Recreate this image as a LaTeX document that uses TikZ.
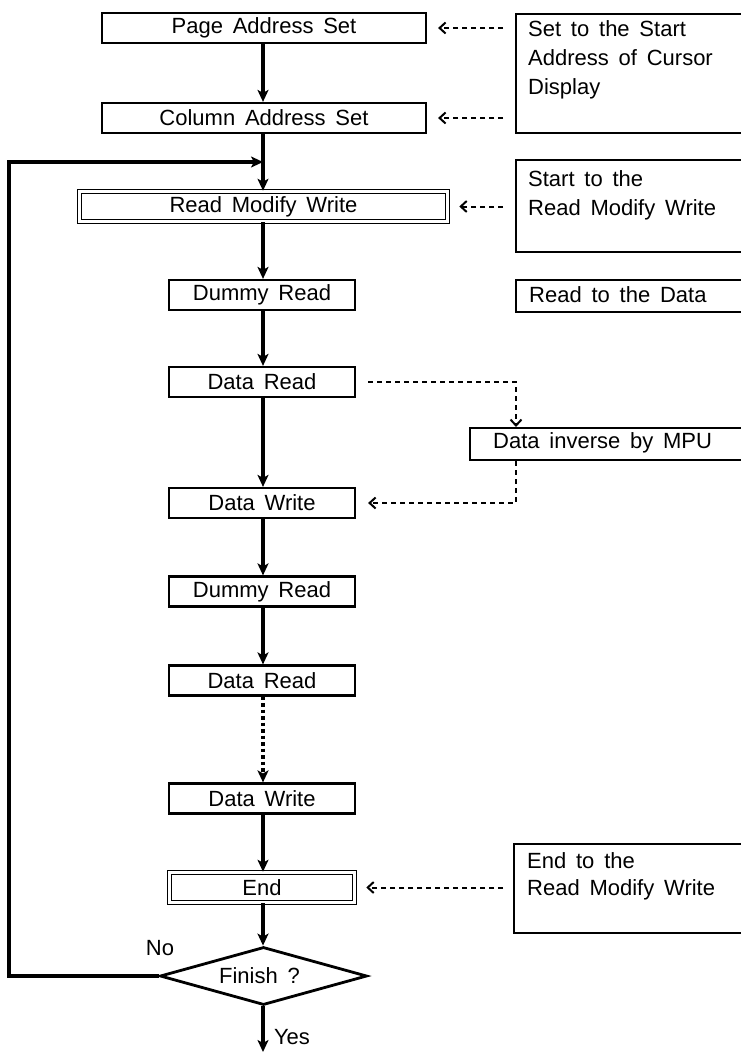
\documentclass[tikz,border=0pt]{standalone}
\usepackage{fontspec}
\setmainfont{Liberation Sans}[WordSpace=1.6]
\usetikzlibrary{arrows.meta,shapes.geometric,calc}
\tikzset{
  fnt/.style={font=\fontsize{22}{29}\selectfont},
  box/.style={draw, line width=2.2pt, inner sep=0pt, minimum height=30pt, fnt},
  bigbox/.style={box, minimum width=324pt},
  smallbox/.style={box, minimum width=186pt, minimum height=30pt},
  dbox/.style={draw, double, line width=1.5pt, double distance=2.4pt, inner sep=0pt, minimum height=30pt, fnt},
  note/.style={draw, line width=2.2pt, anchor=north west, inner sep=0pt},
  notetext/.style={anchor=north west, align=left, inner sep=0pt, fnt},
  flow/.style={line width=3.2pt, -{Stealth[length=12pt,width=11pt,inset=3pt]}},
  dotflow/.style={flow, dash pattern=on 3.5pt off 3pt},
  dasharrow/.style={line width=2pt, dash pattern=on 5pt off 4pt, -{Straight Barb[length=6pt,width=11pt,line width=2pt]}},
  plain/.style={inner sep=0pt, fnt}
}
\begin{document}
\begin{tikzpicture}[x=1pt,y=-1pt]
\path[use as bounding box, fill=white] (0,0) rectangle (741,1052);

% main flow
\node[bigbox] (pas) at (264,28) {Page Address Set};
\node[bigbox] (cas) at (264,118) {Column Address Set};
\node[dbox, minimum width=368pt] (rmw) at (263.5,206.5) {Read Modify Write};
\node[smallbox] (dr1) at (262,295) {Dummy Read};
\node[smallbox] (dtr1) at (262,382) {Data Read};
\node[smallbox] (dw1) at (262,503) {Data Write};
\node[smallbox] (dr2) at (262,591.5) {Dummy Read};
\node[smallbox] (dtr2) at (262,680.5) {Data Read};
\node[smallbox] (dw2) at (262,798.5) {Data Write};
\node[dbox, minimum width=185pt] (end) at (262,887.5) {End};
\node[draw, diamond, aspect=3.5, line width=2.8pt, minimum width=207pt, minimum height=58pt, inner sep=0pt, fnt] (dia) at (263.5,976) {Finish ?\hspace*{8pt}};

% notes
\node[note, minimum width=228pt, minimum height=119pt] (n1) at (515,13) {};
\node[notetext] (t1) at (528,20.5) {Set to the Start\\Address of Cursor\\Display};
\node[note, minimum width=228pt, minimum height=92pt] (n2) at (515,159) {};
\node[notetext] (t2) at (528,170) {Start to the\\Read Modify Write};
\node[note, minimum width=228pt, minimum height=32pt] (n3) at (515,279) {};
\node[plain, anchor=west] (t3) at (529,295) {Read to the Data};
\node[note, minimum width=274pt, minimum height=32pt] (inv) at (469,427) {};
\node[plain, anchor=west] (t5) at (493,443) {Data inverse by MPU};
\node[note, minimum width=230pt, minimum height=89pt] (n4) at (513,843) {};
\node[notetext, font=\fontsize{22}{27}\selectfont] (t4) at (527,852) {End to the\\Read Modify Write};

% labels
\node[plain] (no) at (160,948) {No};
\node[plain] (yes) at (292,1037) {Yes};

% coordinates
\coordinate (lp) at (9,162);
\coordinate (join) at (263,162);
\coordinate (bot) at (263,1052);
\coordinate (k1) at ([xshift=47pt]inv.north west);
\coordinate (k2) at ([xshift=47pt]inv.south west);

% main connectors
\draw[flow] (pas.south -| join) -- (cas.north -| join);
\draw[flow] (cas.south -| join) -- (rmw.north -| join);
\draw[flow] (rmw.south -| join) -- (dr1.north -| join);
\draw[flow] (dr1.south -| join) -- (dtr1.north -| join);
\draw[flow] (dtr1.south -| join) -- (dw1.north -| join);
\draw[flow] (dw1.south -| join) -- (dr2.north -| join);
\draw[flow] (dr2.south -| join) -- (dtr2.north -| join);
\draw[dotflow] (dtr2.south -| join) -- (dw2.north -| join);
\draw[flow] (dw2.south -| join) -- (end.north -| join);
\draw[flow] (end.south -| join) -- (dia.north -| join);
\draw[flow] (dia.south -| join) -- (bot);
\draw[flow] (dia.west) -| (lp) -- (join);

% dashed connectors
\draw[dasharrow] ([xshift=-12pt]n1.west |- pas) -- ([xshift=11pt]pas.east);
\draw[dasharrow] ([xshift=-12pt]n1.west |- cas) -- ([xshift=11pt]cas.east);
\draw[dasharrow] ([xshift=-12pt]n2.west |- rmw) -- ([xshift=11pt]rmw.east);
\draw[dasharrow] ([xshift=12pt]dtr1.east) -| (k1);
\draw[dasharrow] (k2) |- ([xshift=12pt]dw1.east);
\draw[dasharrow] ([xshift=-10pt]n4.west |- end) -- ([xshift=11pt]end.east);
\end{tikzpicture}
\end{document}
